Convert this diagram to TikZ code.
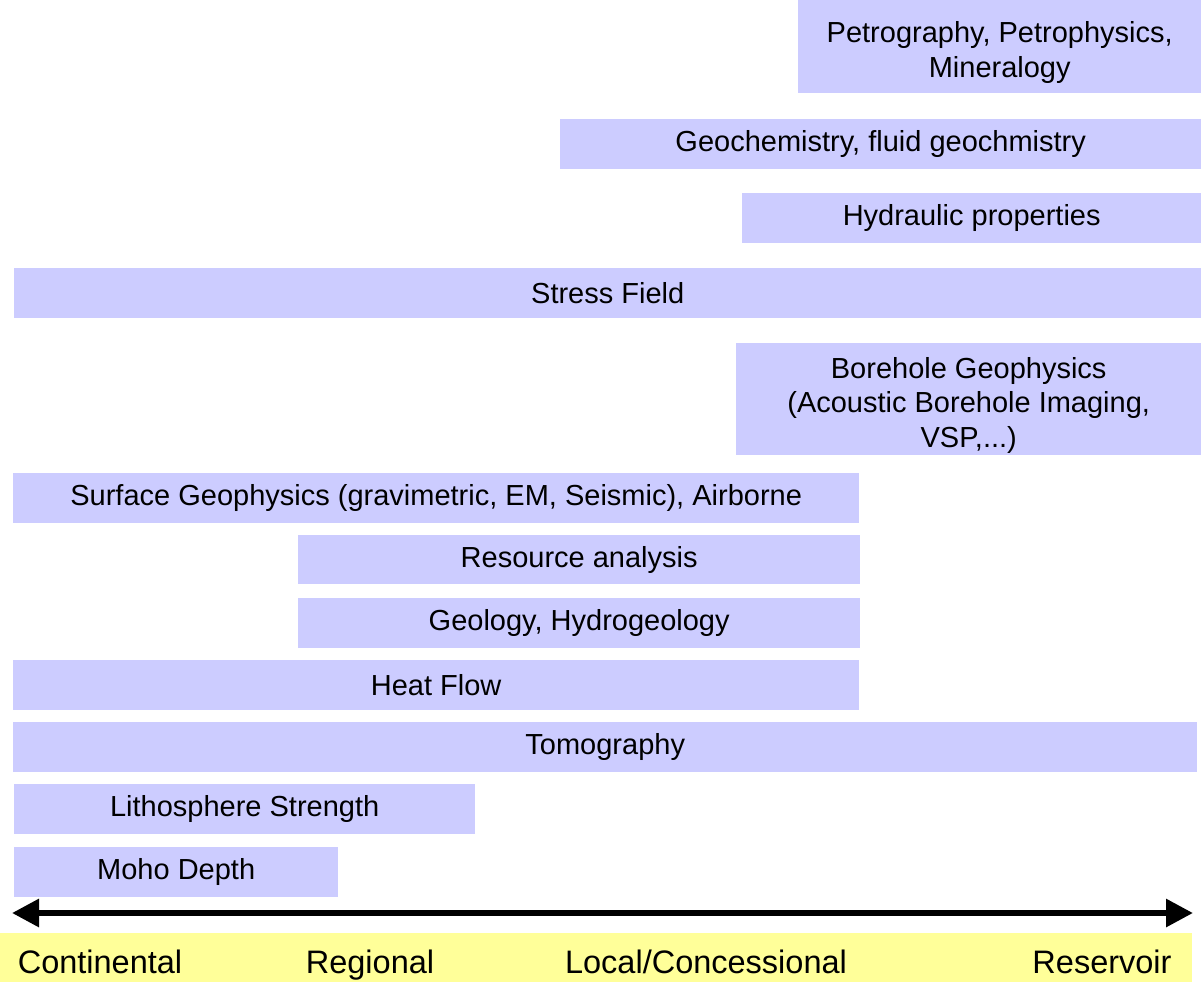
\documentclass[tikz,border=0pt]{standalone}
\usepackage{fontspec}
\setmainfont{Liberation Sans}
\usepackage{tikz}
\usetikzlibrary{arrows.meta,positioning,calc}
\definecolor{barblue}{HTML}{CCCCFF}
\definecolor{bandyellow}{HTML}{FFFF99}

\begin{document}
\begin{tikzpicture}[x=1pt,y=-1pt,
    bar/.style={fill=barblue, anchor=north west, inner sep=0pt, align=center,
      font=\fontsize{29}{34.5}\selectfont},
    lab/.style={inner sep=0pt, anchor=base, font=\fontsize{32.5}{36}\selectfont}]
    \useasboundingbox (0,0) rectangle (1201,982);

    \node [bar, minimum width=403pt, minimum height=93pt] (petro) at (798,0) {\rule{0pt}{33pt}Petrography, Petrophysics,\\ Mineralogy};
    \node [bar, minimum width=641pt, minimum height=50pt] (geochem) at (560,119) {Geochemistry, fluid geochmistry};
    \node [bar, minimum width=459pt, minimum height=50pt] (hydro) at (742,193) {Hydraulic properties};
    \node [bar, minimum width=1187pt, minimum height=50pt] (stress) at (14,268) {Stress Field};
    \node [bar, minimum width=465pt, minimum height=112pt] (bore) at (736,343) {\rule{0pt}{33pt}Borehole Geophysics\\ (Acoustic Borehole Imaging,\\ VSP,...)};
    \node [bar, minimum width=846pt, minimum height=50pt] (surf) at (13,473) {Surface Geophysics (gravimetric, EM, Seismic), Airborne};
    \node [bar, minimum width=562pt, minimum height=49pt] (resource) at (298,535) {Resource analysis};
    \node [bar, minimum width=562pt, minimum height=50pt] (geology) at (298,598) {Geology, Hydrogeology};
    \node [bar, minimum width=846pt, minimum height=50pt] (heat) at (13,660) {Heat Flow};
    \node [bar, minimum width=1184pt, minimum height=50pt] (tomo) at (13,722) {Tomography};
    \node [bar, minimum width=461pt, minimum height=50pt] (litho) at (14,784) {Lithosphere Strength};
    \node [bar, minimum width=324pt, minimum height=50pt] (moho) at (14,847) {Moho Depth};

    % scale axis
    \coordinate (west) at (12,913);
    \coordinate (east) at (1193,913);
    \draw [line width=6pt, {Triangle[length=27pt,width=27pt]}-{Triangle[length=27pt,width=27pt]}] (west) -- (east);

    \node [fill=bandyellow, anchor=north west, inner sep=0pt, minimum width=1192pt, minimum height=49pt] (band) at (0,933) {};
    \node [lab] (cont) at (100,973) {Continental};
    \node [lab] (reg) at (370,973) {Regional};
    \node [lab] (local) at (706,973) {Local/Concessional};
    \node [lab] (res) at (1102,973) {Reservoir};
\end{tikzpicture}
\end{document}
